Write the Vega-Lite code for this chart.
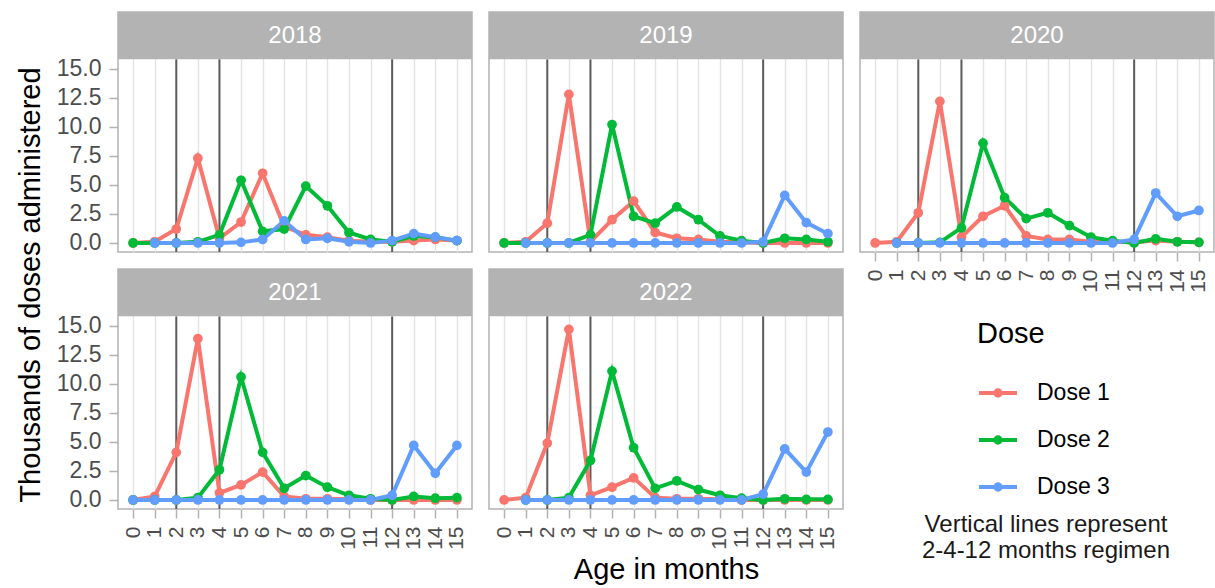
{
  "$schema": "https://vega.github.io/schema/vega-lite/v6.json",
  "padding": {"left": 15, "top": 11, "right": 0, "bottom": 0},
  "background": "white",
  "data": {"values": [
    {"year":"2018","vline":2},{"year":"2018","vline":4},{"year":"2018","vline":12},
    {"year":"2019","vline":2},{"year":"2019","vline":4},{"year":"2019","vline":12},
    {"year":"2020","vline":2},{"year":"2020","vline":4},{"year":"2020","vline":12},
    {"year":"2021","vline":2},{"year":"2021","vline":4},{"year":"2021","vline":12},
    {"year":"2022","vline":2},{"year":"2022","vline":4},{"year":"2022","vline":12},

    {"year":"2018","age":0,"dose":"Dose 1","value":0},
    {"year":"2018","age":1,"dose":"Dose 1","value":0.1},
    {"year":"2018","age":2,"dose":"Dose 1","value":1.2},
    {"year":"2018","age":3,"dose":"Dose 1","value":7.3},
    {"year":"2018","age":4,"dose":"Dose 1","value":0.4},
    {"year":"2018","age":5,"dose":"Dose 1","value":1.8},
    {"year":"2018","age":6,"dose":"Dose 1","value":6.0},
    {"year":"2018","age":7,"dose":"Dose 1","value":1.4},
    {"year":"2018","age":8,"dose":"Dose 1","value":0.7},
    {"year":"2018","age":9,"dose":"Dose 1","value":0.5},
    {"year":"2018","age":10,"dose":"Dose 1","value":0.2},
    {"year":"2018","age":11,"dose":"Dose 1","value":0.1},
    {"year":"2018","age":12,"dose":"Dose 1","value":0.1},
    {"year":"2018","age":13,"dose":"Dose 1","value":0.2},
    {"year":"2018","age":14,"dose":"Dose 1","value":0.3},
    {"year":"2018","age":15,"dose":"Dose 1","value":0.2},
    {"year":"2018","age":0,"dose":"Dose 2","value":0},
    {"year":"2018","age":1,"dose":"Dose 2","value":0},
    {"year":"2018","age":2,"dose":"Dose 2","value":0},
    {"year":"2018","age":3,"dose":"Dose 2","value":0.1},
    {"year":"2018","age":4,"dose":"Dose 2","value":0.7},
    {"year":"2018","age":5,"dose":"Dose 2","value":5.4},
    {"year":"2018","age":6,"dose":"Dose 2","value":1.0},
    {"year":"2018","age":7,"dose":"Dose 2","value":1.2},
    {"year":"2018","age":8,"dose":"Dose 2","value":4.9},
    {"year":"2018","age":9,"dose":"Dose 2","value":3.2},
    {"year":"2018","age":10,"dose":"Dose 2","value":0.9},
    {"year":"2018","age":11,"dose":"Dose 2","value":0.3},
    {"year":"2018","age":12,"dose":"Dose 2","value":0.1},
    {"year":"2018","age":13,"dose":"Dose 2","value":0.6},
    {"year":"2018","age":14,"dose":"Dose 2","value":0.5},
    {"year":"2018","age":15,"dose":"Dose 2","value":0.2},
    {"year":"2018","age":1,"dose":"Dose 3","value":0},
    {"year":"2018","age":2,"dose":"Dose 3","value":0},
    {"year":"2018","age":3,"dose":"Dose 3","value":0},
    {"year":"2018","age":4,"dose":"Dose 3","value":0},
    {"year":"2018","age":5,"dose":"Dose 3","value":0.05},
    {"year":"2018","age":6,"dose":"Dose 3","value":0.3},
    {"year":"2018","age":7,"dose":"Dose 3","value":1.9},
    {"year":"2018","age":8,"dose":"Dose 3","value":0.3},
    {"year":"2018","age":9,"dose":"Dose 3","value":0.4},
    {"year":"2018","age":10,"dose":"Dose 3","value":0.1},
    {"year":"2018","age":11,"dose":"Dose 3","value":0},
    {"year":"2018","age":12,"dose":"Dose 3","value":0.2},
    {"year":"2018","age":13,"dose":"Dose 3","value":0.8},
    {"year":"2018","age":14,"dose":"Dose 3","value":0.5},
    {"year":"2018","age":15,"dose":"Dose 3","value":0.2},

    {"year":"2019","age":0,"dose":"Dose 1","value":0},
    {"year":"2019","age":1,"dose":"Dose 1","value":0.1},
    {"year":"2019","age":2,"dose":"Dose 1","value":1.7},
    {"year":"2019","age":3,"dose":"Dose 1","value":12.8},
    {"year":"2019","age":4,"dose":"Dose 1","value":0.1},
    {"year":"2019","age":5,"dose":"Dose 1","value":2.0},
    {"year":"2019","age":6,"dose":"Dose 1","value":3.6},
    {"year":"2019","age":7,"dose":"Dose 1","value":0.9},
    {"year":"2019","age":8,"dose":"Dose 1","value":0.4},
    {"year":"2019","age":9,"dose":"Dose 1","value":0.3},
    {"year":"2019","age":10,"dose":"Dose 1","value":0.1},
    {"year":"2019","age":11,"dose":"Dose 1","value":0.05},
    {"year":"2019","age":12,"dose":"Dose 1","value":0},
    {"year":"2019","age":13,"dose":"Dose 1","value":0},
    {"year":"2019","age":14,"dose":"Dose 1","value":0},
    {"year":"2019","age":15,"dose":"Dose 1","value":0},
    {"year":"2019","age":0,"dose":"Dose 2","value":0},
    {"year":"2019","age":1,"dose":"Dose 2","value":0},
    {"year":"2019","age":2,"dose":"Dose 2","value":0},
    {"year":"2019","age":3,"dose":"Dose 2","value":0},
    {"year":"2019","age":4,"dose":"Dose 2","value":0.7},
    {"year":"2019","age":5,"dose":"Dose 2","value":10.2},
    {"year":"2019","age":6,"dose":"Dose 2","value":2.3},
    {"year":"2019","age":7,"dose":"Dose 2","value":1.7},
    {"year":"2019","age":8,"dose":"Dose 2","value":3.1},
    {"year":"2019","age":9,"dose":"Dose 2","value":2.0},
    {"year":"2019","age":10,"dose":"Dose 2","value":0.6},
    {"year":"2019","age":11,"dose":"Dose 2","value":0.2},
    {"year":"2019","age":12,"dose":"Dose 2","value":0},
    {"year":"2019","age":13,"dose":"Dose 2","value":0.4},
    {"year":"2019","age":14,"dose":"Dose 2","value":0.3},
    {"year":"2019","age":15,"dose":"Dose 2","value":0.1},
    {"year":"2019","age":1,"dose":"Dose 3","value":0},
    {"year":"2019","age":2,"dose":"Dose 3","value":0},
    {"year":"2019","age":3,"dose":"Dose 3","value":0},
    {"year":"2019","age":4,"dose":"Dose 3","value":0},
    {"year":"2019","age":5,"dose":"Dose 3","value":0},
    {"year":"2019","age":6,"dose":"Dose 3","value":0},
    {"year":"2019","age":7,"dose":"Dose 3","value":0},
    {"year":"2019","age":8,"dose":"Dose 3","value":0},
    {"year":"2019","age":9,"dose":"Dose 3","value":0},
    {"year":"2019","age":10,"dose":"Dose 3","value":0},
    {"year":"2019","age":11,"dose":"Dose 3","value":0},
    {"year":"2019","age":12,"dose":"Dose 3","value":0.1},
    {"year":"2019","age":13,"dose":"Dose 3","value":4.1},
    {"year":"2019","age":14,"dose":"Dose 3","value":1.75},
    {"year":"2019","age":15,"dose":"Dose 3","value":0.8},

    {"year":"2020","age":0,"dose":"Dose 1","value":0},
    {"year":"2020","age":1,"dose":"Dose 1","value":0.1},
    {"year":"2020","age":2,"dose":"Dose 1","value":2.6},
    {"year":"2020","age":3,"dose":"Dose 1","value":12.2},
    {"year":"2020","age":4,"dose":"Dose 1","value":0.5},
    {"year":"2020","age":5,"dose":"Dose 1","value":2.3},
    {"year":"2020","age":6,"dose":"Dose 1","value":3.2},
    {"year":"2020","age":7,"dose":"Dose 1","value":0.6},
    {"year":"2020","age":8,"dose":"Dose 1","value":0.3},
    {"year":"2020","age":9,"dose":"Dose 1","value":0.3},
    {"year":"2020","age":10,"dose":"Dose 1","value":0.1},
    {"year":"2020","age":11,"dose":"Dose 1","value":0.1},
    {"year":"2020","age":12,"dose":"Dose 1","value":0.05},
    {"year":"2020","age":13,"dose":"Dose 1","value":0.2},
    {"year":"2020","age":14,"dose":"Dose 1","value":0.1},
    {"year":"2020","age":15,"dose":"Dose 1","value":0.05},
    {"year":"2020","age":1,"dose":"Dose 2","value":0},
    {"year":"2020","age":2,"dose":"Dose 2","value":0},
    {"year":"2020","age":3,"dose":"Dose 2","value":0.05},
    {"year":"2020","age":4,"dose":"Dose 2","value":1.3},
    {"year":"2020","age":5,"dose":"Dose 2","value":8.6},
    {"year":"2020","age":6,"dose":"Dose 2","value":3.9},
    {"year":"2020","age":7,"dose":"Dose 2","value":2.1},
    {"year":"2020","age":8,"dose":"Dose 2","value":2.6},
    {"year":"2020","age":9,"dose":"Dose 2","value":1.5},
    {"year":"2020","age":10,"dose":"Dose 2","value":0.5},
    {"year":"2020","age":11,"dose":"Dose 2","value":0.2},
    {"year":"2020","age":12,"dose":"Dose 2","value":0},
    {"year":"2020","age":13,"dose":"Dose 2","value":0.35},
    {"year":"2020","age":14,"dose":"Dose 2","value":0.1},
    {"year":"2020","age":15,"dose":"Dose 2","value":0.05},
    {"year":"2020","age":1,"dose":"Dose 3","value":0},
    {"year":"2020","age":2,"dose":"Dose 3","value":0},
    {"year":"2020","age":3,"dose":"Dose 3","value":0},
    {"year":"2020","age":4,"dose":"Dose 3","value":0},
    {"year":"2020","age":5,"dose":"Dose 3","value":0},
    {"year":"2020","age":6,"dose":"Dose 3","value":0},
    {"year":"2020","age":7,"dose":"Dose 3","value":0},
    {"year":"2020","age":8,"dose":"Dose 3","value":0},
    {"year":"2020","age":9,"dose":"Dose 3","value":0},
    {"year":"2020","age":10,"dose":"Dose 3","value":0},
    {"year":"2020","age":11,"dose":"Dose 3","value":0},
    {"year":"2020","age":12,"dose":"Dose 3","value":0.3},
    {"year":"2020","age":13,"dose":"Dose 3","value":4.3},
    {"year":"2020","age":14,"dose":"Dose 3","value":2.3},
    {"year":"2020","age":15,"dose":"Dose 3","value":2.8},

    {"year":"2021","age":0,"dose":"Dose 1","value":0},
    {"year":"2021","age":1,"dose":"Dose 1","value":0.3},
    {"year":"2021","age":2,"dose":"Dose 1","value":4.1},
    {"year":"2021","age":3,"dose":"Dose 1","value":13.9},
    {"year":"2021","age":4,"dose":"Dose 1","value":0.6},
    {"year":"2021","age":5,"dose":"Dose 1","value":1.3},
    {"year":"2021","age":6,"dose":"Dose 1","value":2.4},
    {"year":"2021","age":7,"dose":"Dose 1","value":0.3},
    {"year":"2021","age":8,"dose":"Dose 1","value":0.1},
    {"year":"2021","age":9,"dose":"Dose 1","value":0.1},
    {"year":"2021","age":10,"dose":"Dose 1","value":0.05},
    {"year":"2021","age":11,"dose":"Dose 1","value":0},
    {"year":"2021","age":12,"dose":"Dose 1","value":0},
    {"year":"2021","age":13,"dose":"Dose 1","value":0},
    {"year":"2021","age":14,"dose":"Dose 1","value":0},
    {"year":"2021","age":15,"dose":"Dose 1","value":0},
    {"year":"2021","age":0,"dose":"Dose 2","value":0},
    {"year":"2021","age":1,"dose":"Dose 2","value":0},
    {"year":"2021","age":2,"dose":"Dose 2","value":0},
    {"year":"2021","age":3,"dose":"Dose 2","value":0.2},
    {"year":"2021","age":4,"dose":"Dose 2","value":2.6},
    {"year":"2021","age":5,"dose":"Dose 2","value":10.6},
    {"year":"2021","age":6,"dose":"Dose 2","value":4.1},
    {"year":"2021","age":7,"dose":"Dose 2","value":1.0},
    {"year":"2021","age":8,"dose":"Dose 2","value":2.1},
    {"year":"2021","age":9,"dose":"Dose 2","value":1.1},
    {"year":"2021","age":10,"dose":"Dose 2","value":0.4},
    {"year":"2021","age":11,"dose":"Dose 2","value":0.1},
    {"year":"2021","age":12,"dose":"Dose 2","value":0},
    {"year":"2021","age":13,"dose":"Dose 2","value":0.3},
    {"year":"2021","age":14,"dose":"Dose 2","value":0.15},
    {"year":"2021","age":15,"dose":"Dose 2","value":0.2},
    {"year":"2021","age":0,"dose":"Dose 3","value":0},
    {"year":"2021","age":1,"dose":"Dose 3","value":0},
    {"year":"2021","age":2,"dose":"Dose 3","value":0},
    {"year":"2021","age":3,"dose":"Dose 3","value":0},
    {"year":"2021","age":4,"dose":"Dose 3","value":0},
    {"year":"2021","age":5,"dose":"Dose 3","value":0},
    {"year":"2021","age":6,"dose":"Dose 3","value":0},
    {"year":"2021","age":7,"dose":"Dose 3","value":0},
    {"year":"2021","age":8,"dose":"Dose 3","value":0},
    {"year":"2021","age":9,"dose":"Dose 3","value":0},
    {"year":"2021","age":10,"dose":"Dose 3","value":0},
    {"year":"2021","age":11,"dose":"Dose 3","value":0},
    {"year":"2021","age":12,"dose":"Dose 3","value":0.4},
    {"year":"2021","age":13,"dose":"Dose 3","value":4.7},
    {"year":"2021","age":14,"dose":"Dose 3","value":2.3},
    {"year":"2021","age":15,"dose":"Dose 3","value":4.7},

    {"year":"2022","age":0,"dose":"Dose 1","value":0},
    {"year":"2022","age":1,"dose":"Dose 1","value":0.2},
    {"year":"2022","age":2,"dose":"Dose 1","value":4.9},
    {"year":"2022","age":3,"dose":"Dose 1","value":14.7},
    {"year":"2022","age":4,"dose":"Dose 1","value":0.4},
    {"year":"2022","age":5,"dose":"Dose 1","value":1.1},
    {"year":"2022","age":6,"dose":"Dose 1","value":1.9},
    {"year":"2022","age":7,"dose":"Dose 1","value":0.2},
    {"year":"2022","age":8,"dose":"Dose 1","value":0.1},
    {"year":"2022","age":9,"dose":"Dose 1","value":0.1},
    {"year":"2022","age":10,"dose":"Dose 1","value":0.05},
    {"year":"2022","age":11,"dose":"Dose 1","value":0},
    {"year":"2022","age":12,"dose":"Dose 1","value":0},
    {"year":"2022","age":13,"dose":"Dose 1","value":0},
    {"year":"2022","age":14,"dose":"Dose 1","value":0},
    {"year":"2022","age":15,"dose":"Dose 1","value":0},
    {"year":"2022","age":1,"dose":"Dose 2","value":0},
    {"year":"2022","age":2,"dose":"Dose 2","value":0},
    {"year":"2022","age":3,"dose":"Dose 2","value":0.2},
    {"year":"2022","age":4,"dose":"Dose 2","value":3.4},
    {"year":"2022","age":5,"dose":"Dose 2","value":11.1},
    {"year":"2022","age":6,"dose":"Dose 2","value":4.5},
    {"year":"2022","age":7,"dose":"Dose 2","value":1.0},
    {"year":"2022","age":8,"dose":"Dose 2","value":1.65},
    {"year":"2022","age":9,"dose":"Dose 2","value":0.9},
    {"year":"2022","age":10,"dose":"Dose 2","value":0.4},
    {"year":"2022","age":11,"dose":"Dose 2","value":0.15},
    {"year":"2022","age":12,"dose":"Dose 2","value":0},
    {"year":"2022","age":13,"dose":"Dose 2","value":0.1},
    {"year":"2022","age":14,"dose":"Dose 2","value":0.05},
    {"year":"2022","age":15,"dose":"Dose 2","value":0.05},
    {"year":"2022","age":1,"dose":"Dose 3","value":0},
    {"year":"2022","age":2,"dose":"Dose 3","value":0},
    {"year":"2022","age":3,"dose":"Dose 3","value":0},
    {"year":"2022","age":4,"dose":"Dose 3","value":0},
    {"year":"2022","age":5,"dose":"Dose 3","value":0},
    {"year":"2022","age":6,"dose":"Dose 3","value":0},
    {"year":"2022","age":7,"dose":"Dose 3","value":0},
    {"year":"2022","age":8,"dose":"Dose 3","value":0},
    {"year":"2022","age":9,"dose":"Dose 3","value":0},
    {"year":"2022","age":10,"dose":"Dose 3","value":0},
    {"year":"2022","age":11,"dose":"Dose 3","value":0},
    {"year":"2022","age":12,"dose":"Dose 3","value":0.5},
    {"year":"2022","age":13,"dose":"Dose 3","value":4.4},
    {"year":"2022","age":14,"dose":"Dose 3","value":2.4},
    {"year":"2022","age":15,"dose":"Dose 3","value":5.85}
  ]},
  "columns": 3,
  "spacing": 17,
  "bounds": "flush",
  "resolve": {"scale": {"color": "shared", "strokeDash": "shared"}, "legend": {"color": "shared", "strokeDash": "shared"}},
  "concat": [
    {
      "width": 354, "height": 240,
      "transform": [{"filter": "datum.year == '2018'"}],
      "layer": [
        {"transform": [{"filter": "datum.vline != null"}],
         "mark": {"type": "rule", "color": "#4D4D4D", "strokeWidth": 2, "opacity": 0.9},
         "encoding": {
           "x": {"field": "vline", "type": "quantitative", "scale": {"domain": [-0.7, 15.7], "nice": false, "zero": false},
             "axis": {"title": null, "labels": false, "ticks": false, "tickCount": 16, "values": [0,1,2,3,4,5,6,7,8,9,10,11,12,13,14,15]}},
           "y": {"datum": -0.78, "type": "quantitative", "scale": {"domain": [-0.78, 19.9], "nice": false, "zero": false},
             "axis": {"title": "Thousands of doses administered", "titleY": 272.5, "titlePadding": 11, "labelOverlap": false, "values": [0,2.5,5,7.5,10,12.5,15], "format": ".1f"}},
           "y2": {"datum": 15.82},
           "strokeDash": {"datum": "v", "type": "nominal", "scale": {"range": [[1, 0]]},
             "legend": {"title": ["Vertical lines represent", "2-4-12 months regimen"], "orient": "none", "legendX": 804, "legendY": 501,
               "titleFontSize": 24, "titleFontWeight": "normal", "titleColor": "#1A1A1A", "titleAlign": "center", "titleAnchor": "middle", "titleLineHeight": 26, "titleLimit": 0,
               "labelExpr": "''", "symbolOpacity": 0, "symbolSize": 1, "labelFontSize": 1}}
         }},
        {"transform": [{"filter": "datum.dose != null"}],
         "mark": {"type": "line", "strokeWidth": 4},
         "encoding": {
           "x": {"field": "age", "type": "quantitative", "scale": {"domain": [-0.7, 15.7], "nice": false, "zero": false},
             "axis": {"title": null, "labels": false, "ticks": false, "tickCount": 16, "values": [0,1,2,3,4,5,6,7,8,9,10,11,12,13,14,15]}},
           "y": {"field": "value", "type": "quantitative", "scale": {"domain": [-0.78, 19.9], "nice": false, "zero": false},
             "axis": {"title": "Thousands of doses administered", "titleY": 272.5, "titlePadding": 11, "labelOverlap": false, "values": [0,2.5,5,7.5,10,12.5,15], "format": ".1f"}},
           "color": {"field": "dose", "type": "nominal",
             "scale": {"domain": ["Dose 1", "Dose 2", "Dose 3"], "range": ["#F8766D", "#00BA38", "#619CFF"]},
             "legend": {"title": "Dose", "orient": "none", "legendX": 859, "legendY": 308,
               "titleFontSize": 29, "titleFontWeight": "normal", "titleColor": "#000000", "titlePadding": 23,
               "labelFontSize": 23, "labelColor": "#000000", "labelOffset": 18,
               "symbolType": "M-1,0L1,0M0.14,0A0.14,0.14,0,1,1,-0.14,0A0.14,0.14,0,1,1,0.14,0",
               "symbolSize": 1444, "symbolStrokeWidth": 4, "rowPadding": 14}}
         }},
        {"transform": [{"filter": "datum.dose != null"}],
         "mark": {"type": "point", "filled": true, "size": 95, "opacity": 1},
         "encoding": {
           "x": {"field": "age", "type": "quantitative", "scale": {"domain": [-0.7, 15.7], "nice": false, "zero": false},
             "axis": {"title": null, "labels": false, "ticks": false, "tickCount": 16, "values": [0,1,2,3,4,5,6,7,8,9,10,11,12,13,14,15]}},
           "y": {"field": "value", "type": "quantitative", "scale": {"domain": [-0.78, 19.9], "nice": false, "zero": false},
             "axis": {"title": "Thousands of doses administered", "titleY": 272.5, "titlePadding": 11, "labelOverlap": false, "values": [0,2.5,5,7.5,10,12.5,15], "format": ".1f"}},
           "color": {"field": "dose", "type": "nominal", "scale": {"domain": ["Dose 1", "Dose 2", "Dose 3"], "range": ["#F8766D", "#00BA38", "#619CFF"]}, "legend": null}
         }},
        {"transform": [{"filter": "datum.vline == 2"}],
         "mark": {"type": "rect", "color": "#B3B3B3"},
         "encoding": {
           "x": {"datum": -0.7, "type": "quantitative", "scale": {"domain": [-0.7, 15.7], "nice": false, "zero": false},
             "axis": {"title": null, "labels": false, "ticks": false, "tickCount": 16, "values": [0,1,2,3,4,5,6,7,8,9,10,11,12,13,14,15]}},
           "x2": {"datum": 15.7},
           "y": {"datum": 15.82, "type": "quantitative", "scale": {"domain": [-0.78, 19.9], "nice": false, "zero": false},
             "axis": {"title": "Thousands of doses administered", "titleY": 272.5, "titlePadding": 11, "labelOverlap": false, "values": [0,2.5,5,7.5,10,12.5,15], "format": ".1f"}},
           "y2": {"datum": 19.9}
         }},
        {"transform": [{"filter": "datum.vline == 2"}],
         "mark": {"type": "text", "color": "#FFFFFF", "fontSize": 24, "baseline": "middle", "align": "center"},
         "encoding": {
           "x": {"datum": 7.5, "type": "quantitative", "scale": {"domain": [-0.7, 15.7], "nice": false, "zero": false},
             "axis": {"title": null, "labels": false, "ticks": false, "tickCount": 16, "values": [0,1,2,3,4,5,6,7,8,9,10,11,12,13,14,15]}},
           "y": {"datum": 17.86, "type": "quantitative", "scale": {"domain": [-0.78, 19.9], "nice": false, "zero": false},
             "axis": {"title": "Thousands of doses administered", "titleY": 272.5, "titlePadding": 11, "labelOverlap": false, "values": [0,2.5,5,7.5,10,12.5,15], "format": ".1f"}},
           "text": {"field": "year", "type": "nominal"}
         }}
      ]
    },
    {
      "width": 354, "height": 240,
      "transform": [{"filter": "datum.year == '2019'"}],
      "layer": [
        {"transform": [{"filter": "datum.vline != null"}],
         "mark": {"type": "rule", "color": "#4D4D4D", "strokeWidth": 2, "opacity": 0.9},
         "encoding": {
           "x": {"field": "vline", "type": "quantitative", "scale": {"domain": [-0.7, 15.7], "nice": false, "zero": false},
             "axis": {"title": null, "labels": false, "ticks": false, "tickCount": 16, "values": [0,1,2,3,4,5,6,7,8,9,10,11,12,13,14,15]}},
           "y": {"datum": -0.78, "type": "quantitative", "scale": {"domain": [-0.78, 19.9], "nice": false, "zero": false},
             "axis": {"title": null, "labels": false, "ticks": false, "values": [0,2.5,5,7.5,10,12.5,15]}},
           "y2": {"datum": 15.82}
         }},
        {"transform": [{"filter": "datum.dose != null"}],
         "mark": {"type": "line", "strokeWidth": 4},
         "encoding": {
           "x": {"field": "age", "type": "quantitative", "scale": {"domain": [-0.7, 15.7], "nice": false, "zero": false},
             "axis": {"title": null, "labels": false, "ticks": false, "tickCount": 16, "values": [0,1,2,3,4,5,6,7,8,9,10,11,12,13,14,15]}},
           "y": {"field": "value", "type": "quantitative", "scale": {"domain": [-0.78, 19.9], "nice": false, "zero": false},
             "axis": {"title": null, "labels": false, "ticks": false, "values": [0,2.5,5,7.5,10,12.5,15]}},
           "color": {"field": "dose", "type": "nominal", "scale": {"domain": ["Dose 1", "Dose 2", "Dose 3"], "range": ["#F8766D", "#00BA38", "#619CFF"]}, "legend": null}
         }},
        {"transform": [{"filter": "datum.dose != null"}],
         "mark": {"type": "point", "filled": true, "size": 95, "opacity": 1},
         "encoding": {
           "x": {"field": "age", "type": "quantitative", "scale": {"domain": [-0.7, 15.7], "nice": false, "zero": false},
             "axis": {"title": null, "labels": false, "ticks": false, "tickCount": 16, "values": [0,1,2,3,4,5,6,7,8,9,10,11,12,13,14,15]}},
           "y": {"field": "value", "type": "quantitative", "scale": {"domain": [-0.78, 19.9], "nice": false, "zero": false},
             "axis": {"title": null, "labels": false, "ticks": false, "values": [0,2.5,5,7.5,10,12.5,15]}},
           "color": {"field": "dose", "type": "nominal", "scale": {"domain": ["Dose 1", "Dose 2", "Dose 3"], "range": ["#F8766D", "#00BA38", "#619CFF"]}, "legend": null}
         }},
        {"transform": [{"filter": "datum.vline == 2"}],
         "mark": {"type": "rect", "color": "#B3B3B3"},
         "encoding": {
           "x": {"datum": -0.7, "type": "quantitative", "scale": {"domain": [-0.7, 15.7], "nice": false, "zero": false},
             "axis": {"title": null, "labels": false, "ticks": false, "tickCount": 16, "values": [0,1,2,3,4,5,6,7,8,9,10,11,12,13,14,15]}},
           "x2": {"datum": 15.7},
           "y": {"datum": 15.82, "type": "quantitative", "scale": {"domain": [-0.78, 19.9], "nice": false, "zero": false},
             "axis": {"title": null, "labels": false, "ticks": false, "values": [0,2.5,5,7.5,10,12.5,15]}},
           "y2": {"datum": 19.9}
         }},
        {"transform": [{"filter": "datum.vline == 2"}],
         "mark": {"type": "text", "color": "#FFFFFF", "fontSize": 24, "baseline": "middle", "align": "center"},
         "encoding": {
           "x": {"datum": 7.5, "type": "quantitative", "scale": {"domain": [-0.7, 15.7], "nice": false, "zero": false},
             "axis": {"title": null, "labels": false, "ticks": false, "tickCount": 16, "values": [0,1,2,3,4,5,6,7,8,9,10,11,12,13,14,15]}},
           "y": {"datum": 17.86, "type": "quantitative", "scale": {"domain": [-0.78, 19.9], "nice": false, "zero": false},
             "axis": {"title": null, "labels": false, "ticks": false, "values": [0,2.5,5,7.5,10,12.5,15]}},
           "text": {"field": "year", "type": "nominal"}
         }}
      ]
    },
    {
      "width": 354, "height": 240,
      "transform": [{"filter": "datum.year == '2020'"}],
      "layer": [
        {"transform": [{"filter": "datum.vline != null"}],
         "mark": {"type": "rule", "color": "#4D4D4D", "strokeWidth": 2, "opacity": 0.9},
         "encoding": {
           "x": {"field": "vline", "type": "quantitative", "scale": {"domain": [-0.7, 15.7], "nice": false, "zero": false},
             "axis": {"title": null, "labelOverlap": false, "format": "d", "tickCount": 16, "values": [0,1,2,3,4,5,6,7,8,9,10,11,12,13,14,15]}},
           "y": {"datum": -0.78, "type": "quantitative", "scale": {"domain": [-0.78, 19.9], "nice": false, "zero": false},
             "axis": {"title": null, "labels": false, "ticks": false, "values": [0,2.5,5,7.5,10,12.5,15]}},
           "y2": {"datum": 15.82}
         }},
        {"transform": [{"filter": "datum.dose != null"}],
         "mark": {"type": "line", "strokeWidth": 4},
         "encoding": {
           "x": {"field": "age", "type": "quantitative", "scale": {"domain": [-0.7, 15.7], "nice": false, "zero": false},
             "axis": {"title": null, "labelOverlap": false, "format": "d", "tickCount": 16, "values": [0,1,2,3,4,5,6,7,8,9,10,11,12,13,14,15]}},
           "y": {"field": "value", "type": "quantitative", "scale": {"domain": [-0.78, 19.9], "nice": false, "zero": false},
             "axis": {"title": null, "labels": false, "ticks": false, "values": [0,2.5,5,7.5,10,12.5,15]}},
           "color": {"field": "dose", "type": "nominal", "scale": {"domain": ["Dose 1", "Dose 2", "Dose 3"], "range": ["#F8766D", "#00BA38", "#619CFF"]}, "legend": null}
         }},
        {"transform": [{"filter": "datum.dose != null"}],
         "mark": {"type": "point", "filled": true, "size": 95, "opacity": 1},
         "encoding": {
           "x": {"field": "age", "type": "quantitative", "scale": {"domain": [-0.7, 15.7], "nice": false, "zero": false},
             "axis": {"title": null, "labelOverlap": false, "format": "d", "tickCount": 16, "values": [0,1,2,3,4,5,6,7,8,9,10,11,12,13,14,15]}},
           "y": {"field": "value", "type": "quantitative", "scale": {"domain": [-0.78, 19.9], "nice": false, "zero": false},
             "axis": {"title": null, "labels": false, "ticks": false, "values": [0,2.5,5,7.5,10,12.5,15]}},
           "color": {"field": "dose", "type": "nominal", "scale": {"domain": ["Dose 1", "Dose 2", "Dose 3"], "range": ["#F8766D", "#00BA38", "#619CFF"]}, "legend": null}
         }},
        {"transform": [{"filter": "datum.vline == 2"}],
         "mark": {"type": "rect", "color": "#B3B3B3"},
         "encoding": {
           "x": {"datum": -0.7, "type": "quantitative", "scale": {"domain": [-0.7, 15.7], "nice": false, "zero": false},
             "axis": {"title": null, "labelOverlap": false, "format": "d", "tickCount": 16, "values": [0,1,2,3,4,5,6,7,8,9,10,11,12,13,14,15]}},
           "x2": {"datum": 15.7},
           "y": {"datum": 15.82, "type": "quantitative", "scale": {"domain": [-0.78, 19.9], "nice": false, "zero": false},
             "axis": {"title": null, "labels": false, "ticks": false, "values": [0,2.5,5,7.5,10,12.5,15]}},
           "y2": {"datum": 19.9}
         }},
        {"transform": [{"filter": "datum.vline == 2"}],
         "mark": {"type": "text", "color": "#FFFFFF", "fontSize": 24, "baseline": "middle", "align": "center"},
         "encoding": {
           "x": {"datum": 7.5, "type": "quantitative", "scale": {"domain": [-0.7, 15.7], "nice": false, "zero": false},
             "axis": {"title": null, "labelOverlap": false, "format": "d", "tickCount": 16, "values": [0,1,2,3,4,5,6,7,8,9,10,11,12,13,14,15]}},
           "y": {"datum": 17.86, "type": "quantitative", "scale": {"domain": [-0.78, 19.9], "nice": false, "zero": false},
             "axis": {"title": null, "labels": false, "ticks": false, "values": [0,2.5,5,7.5,10,12.5,15]}},
           "text": {"field": "year", "type": "nominal"}
         }}
      ]
    },
    {
      "width": 354, "height": 240,
      "transform": [{"filter": "datum.year == '2021'"}],
      "layer": [
        {"transform": [{"filter": "datum.vline != null"}],
         "mark": {"type": "rule", "color": "#4D4D4D", "strokeWidth": 2, "opacity": 0.9},
         "encoding": {
           "x": {"field": "vline", "type": "quantitative", "scale": {"domain": [-0.7, 15.7], "nice": false, "zero": false},
             "axis": {"title": null, "labelOverlap": false, "format": "d", "tickCount": 16, "values": [0,1,2,3,4,5,6,7,8,9,10,11,12,13,14,15]}},
           "y": {"datum": -0.78, "type": "quantitative", "scale": {"domain": [-0.78, 19.9], "nice": false, "zero": false},
             "axis": {"title": null, "labelOverlap": false, "format": ".1f", "values": [0,2.5,5,7.5,10,12.5,15]}},
           "y2": {"datum": 15.82}
         }},
        {"transform": [{"filter": "datum.dose != null"}],
         "mark": {"type": "line", "strokeWidth": 4},
         "encoding": {
           "x": {"field": "age", "type": "quantitative", "scale": {"domain": [-0.7, 15.7], "nice": false, "zero": false},
             "axis": {"title": null, "labelOverlap": false, "format": "d", "tickCount": 16, "values": [0,1,2,3,4,5,6,7,8,9,10,11,12,13,14,15]}},
           "y": {"field": "value", "type": "quantitative", "scale": {"domain": [-0.78, 19.9], "nice": false, "zero": false},
             "axis": {"title": null, "labelOverlap": false, "format": ".1f", "values": [0,2.5,5,7.5,10,12.5,15]}},
           "color": {"field": "dose", "type": "nominal", "scale": {"domain": ["Dose 1", "Dose 2", "Dose 3"], "range": ["#F8766D", "#00BA38", "#619CFF"]}, "legend": null}
         }},
        {"transform": [{"filter": "datum.dose != null"}],
         "mark": {"type": "point", "filled": true, "size": 95, "opacity": 1},
         "encoding": {
           "x": {"field": "age", "type": "quantitative", "scale": {"domain": [-0.7, 15.7], "nice": false, "zero": false},
             "axis": {"title": null, "labelOverlap": false, "format": "d", "tickCount": 16, "values": [0,1,2,3,4,5,6,7,8,9,10,11,12,13,14,15]}},
           "y": {"field": "value", "type": "quantitative", "scale": {"domain": [-0.78, 19.9], "nice": false, "zero": false},
             "axis": {"title": null, "labelOverlap": false, "format": ".1f", "values": [0,2.5,5,7.5,10,12.5,15]}},
           "color": {"field": "dose", "type": "nominal", "scale": {"domain": ["Dose 1", "Dose 2", "Dose 3"], "range": ["#F8766D", "#00BA38", "#619CFF"]}, "legend": null}
         }},
        {"transform": [{"filter": "datum.vline == 2"}],
         "mark": {"type": "rect", "color": "#B3B3B3"},
         "encoding": {
           "x": {"datum": -0.7, "type": "quantitative", "scale": {"domain": [-0.7, 15.7], "nice": false, "zero": false},
             "axis": {"title": null, "labelOverlap": false, "format": "d", "tickCount": 16, "values": [0,1,2,3,4,5,6,7,8,9,10,11,12,13,14,15]}},
           "x2": {"datum": 15.7},
           "y": {"datum": 15.82, "type": "quantitative", "scale": {"domain": [-0.78, 19.9], "nice": false, "zero": false},
             "axis": {"title": null, "labelOverlap": false, "format": ".1f", "values": [0,2.5,5,7.5,10,12.5,15]}},
           "y2": {"datum": 19.9}
         }},
        {"transform": [{"filter": "datum.vline == 2"}],
         "mark": {"type": "text", "color": "#FFFFFF", "fontSize": 24, "baseline": "middle", "align": "center"},
         "encoding": {
           "x": {"datum": 7.5, "type": "quantitative", "scale": {"domain": [-0.7, 15.7], "nice": false, "zero": false},
             "axis": {"title": null, "labelOverlap": false, "format": "d", "tickCount": 16, "values": [0,1,2,3,4,5,6,7,8,9,10,11,12,13,14,15]}},
           "y": {"datum": 17.86, "type": "quantitative", "scale": {"domain": [-0.78, 19.9], "nice": false, "zero": false},
             "axis": {"title": null, "labelOverlap": false, "format": ".1f", "values": [0,2.5,5,7.5,10,12.5,15]}},
           "text": {"field": "year", "type": "nominal"}
         }}
      ]
    },
    {
      "width": 354, "height": 240,
      "transform": [{"filter": "datum.year == '2022'"}],
      "layer": [
        {"transform": [{"filter": "datum.vline != null"}],
         "mark": {"type": "rule", "color": "#4D4D4D", "strokeWidth": 2, "opacity": 0.9},
         "encoding": {
           "x": {"field": "vline", "type": "quantitative", "scale": {"domain": [-0.7, 15.7], "nice": false, "zero": false},
             "axis": {"title": "Age in months", "titlePadding": 6, "labelOverlap": false, "format": "d", "tickCount": 16, "values": [0,1,2,3,4,5,6,7,8,9,10,11,12,13,14,15]}},
           "y": {"datum": -0.78, "type": "quantitative", "scale": {"domain": [-0.78, 19.9], "nice": false, "zero": false},
             "axis": {"title": null, "labels": false, "ticks": false, "values": [0,2.5,5,7.5,10,12.5,15]}},
           "y2": {"datum": 15.82}
         }},
        {"transform": [{"filter": "datum.dose != null"}],
         "mark": {"type": "line", "strokeWidth": 4},
         "encoding": {
           "x": {"field": "age", "type": "quantitative", "scale": {"domain": [-0.7, 15.7], "nice": false, "zero": false},
             "axis": {"title": "Age in months", "titlePadding": 6, "labelOverlap": false, "format": "d", "tickCount": 16, "values": [0,1,2,3,4,5,6,7,8,9,10,11,12,13,14,15]}},
           "y": {"field": "value", "type": "quantitative", "scale": {"domain": [-0.78, 19.9], "nice": false, "zero": false},
             "axis": {"title": null, "labels": false, "ticks": false, "values": [0,2.5,5,7.5,10,12.5,15]}},
           "color": {"field": "dose", "type": "nominal", "scale": {"domain": ["Dose 1", "Dose 2", "Dose 3"], "range": ["#F8766D", "#00BA38", "#619CFF"]}, "legend": null}
         }},
        {"transform": [{"filter": "datum.dose != null"}],
         "mark": {"type": "point", "filled": true, "size": 95, "opacity": 1},
         "encoding": {
           "x": {"field": "age", "type": "quantitative", "scale": {"domain": [-0.7, 15.7], "nice": false, "zero": false},
             "axis": {"title": "Age in months", "titlePadding": 6, "labelOverlap": false, "format": "d", "tickCount": 16, "values": [0,1,2,3,4,5,6,7,8,9,10,11,12,13,14,15]}},
           "y": {"field": "value", "type": "quantitative", "scale": {"domain": [-0.78, 19.9], "nice": false, "zero": false},
             "axis": {"title": null, "labels": false, "ticks": false, "values": [0,2.5,5,7.5,10,12.5,15]}},
           "color": {"field": "dose", "type": "nominal", "scale": {"domain": ["Dose 1", "Dose 2", "Dose 3"], "range": ["#F8766D", "#00BA38", "#619CFF"]}, "legend": null}
         }},
        {"transform": [{"filter": "datum.vline == 2"}],
         "mark": {"type": "rect", "color": "#B3B3B3"},
         "encoding": {
           "x": {"datum": -0.7, "type": "quantitative", "scale": {"domain": [-0.7, 15.7], "nice": false, "zero": false},
             "axis": {"title": "Age in months", "titlePadding": 6, "labelOverlap": false, "format": "d", "tickCount": 16, "values": [0,1,2,3,4,5,6,7,8,9,10,11,12,13,14,15]}},
           "x2": {"datum": 15.7},
           "y": {"datum": 15.82, "type": "quantitative", "scale": {"domain": [-0.78, 19.9], "nice": false, "zero": false},
             "axis": {"title": null, "labels": false, "ticks": false, "values": [0,2.5,5,7.5,10,12.5,15]}},
           "y2": {"datum": 19.9}
         }},
        {"transform": [{"filter": "datum.vline == 2"}],
         "mark": {"type": "text", "color": "#FFFFFF", "fontSize": 24, "baseline": "middle", "align": "center"},
         "encoding": {
           "x": {"datum": 7.5, "type": "quantitative", "scale": {"domain": [-0.7, 15.7], "nice": false, "zero": false},
             "axis": {"title": "Age in months", "titlePadding": 6, "labelOverlap": false, "format": "d", "tickCount": 16, "values": [0,1,2,3,4,5,6,7,8,9,10,11,12,13,14,15]}},
           "y": {"datum": 17.86, "type": "quantitative", "scale": {"domain": [-0.78, 19.9], "nice": false, "zero": false},
             "axis": {"title": null, "labels": false, "ticks": false, "values": [0,2.5,5,7.5,10,12.5,15]}},
           "text": {"field": "year", "type": "nominal"}
         }}
      ]
    }
  ],
  "config": {
    "font": "Liberation Sans",
    "view": {"stroke": "#B3B3B3", "strokeWidth": 1.5},
    "legend": {"padding": 0, "offset": 0},
    "axis": {"gridColor": "#E3E3E3", "gridWidth": 1.4, "labelFontSize": 23, "labelColor": "#4D4D4D", "labelOverlap": false, "labelFlush": false, "labelBound": false,
      "tickSize": 9, "tickWidth": 1.5, "tickColor": "#B3B3B3", "domain": false, "labelPadding": 8,
      "titleFontSize": 29, "titleFontWeight": "normal", "titleColor": "#000000"},
    "axisX": {"labelAngle": 270, "labelFontSize": 21}
  }
}
